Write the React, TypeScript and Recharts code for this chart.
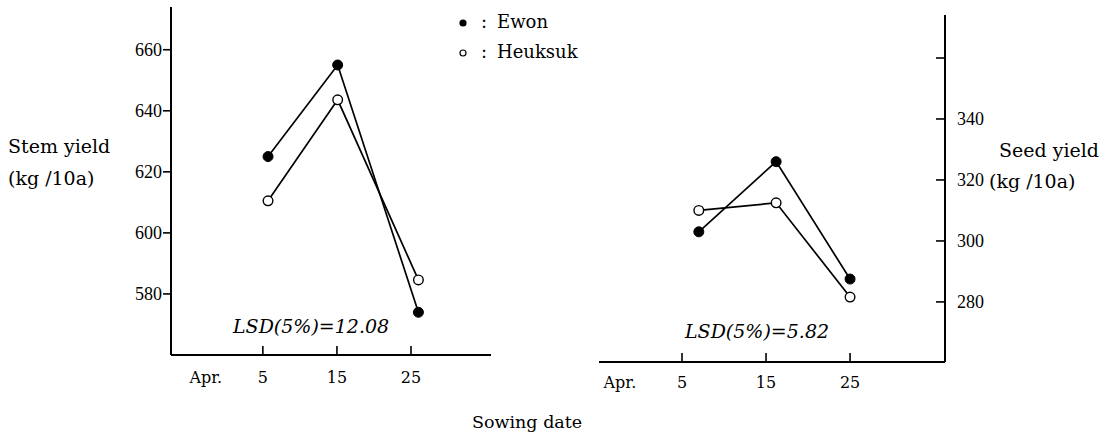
import { LineChart, Line, XAxis, YAxis, Legend } from 'recharts';

const FONT = '"DejaVu Serif", serif';
const NUM_FONT = '"Liberation Serif", serif';

const MONTH = 'Apr.';
const DATE_TICKS = [5, 15, 25];

// stem yield (kg/10a), left panel
const STEM_DAYS = [5.7, 15.1, 26];
const STEM_EWON = [625, 655, 574];
const STEM_HEUKSUK = [610.5, 643.6, 584.6];
const STEM_TICKS = [580, 600, 620, 640, 660];
const STEM_MONTH_AT = -2.7;

// seed yield (kg/10a), right panel
const SEED_DAYS = [7, 16.2, 25];
const SEED_EWON = [303, 326, 287.5];
const SEED_HEUKSUK = [310, 312.5, 281.6];
const SEED_TICKS = [280, 300, 320, 340, 360];
const SEED_LABELED = [280, 300, 320, 340];
const SEED_MONTH_AT = -2.4;

const stemData = STEM_DAYS.map((day, i) => ({ day, ewon: STEM_EWON[i], heuksuk: STEM_HEUKSUK[i] }));
const seedData = SEED_DAYS.map((day, i) => ({ day, ewon: SEED_EWON[i], heuksuk: SEED_HEUKSUK[i] }));

const axisLine = { stroke: '#000', strokeWidth: 2 };

const DateTick = (props: any) => {
  const { x, y, payload, gap } = props;
  const isMonth = !DATE_TICKS.includes(payload.value);
  return (
    <g>
      {!isMonth && <line x1={x} x2={x} y1={y} y2={y - 9} stroke="#000" strokeWidth={1.6} />}
      <text x={x} y={y + gap} textAnchor="middle" fontSize={16} fontFamily={FONT} fill="#000">
        {isMonth ? MONTH : payload.value}
      </text>
    </g>
  );
};

const SeedTick = (props: any) => {
  const { x, y, payload } = props;
  return (
    <g>
      <line x1={x - 9} x2={x} y1={y} y2={y} stroke="#000" strokeWidth={1.6} />
      {SEED_LABELED.includes(payload.value) && (
        <text x={x + 12} y={y + 6} fontSize={18} fontFamily={NUM_FONT} fill="#000">
          {payload.value}
        </text>
      )}
    </g>
  );
};

const LegendBox = () => (
  <svg width={140} height={64} style={{ display: 'block' }}>
    <circle cx={13} cy={23} r={3.6} fill="#000" />
    <text x={31} y={28} fontSize={18} fontFamily={FONT}>:</text>
    <text x={47} y={28} fontSize={18} fontFamily={FONT}>Ewon</text>
    <circle cx={13} cy={53} r={3} fill="#fff" stroke="#000" strokeWidth={1.2} />
    <text x={31} y={58} fontSize={18} fontFamily={FONT}>:</text>
    <text x={47} y={58} fontSize={18} fontFamily={FONT}>Heuksuk</text>
  </svg>
);

const filledDot = { r: 5, fill: '#000', stroke: '#000', strokeWidth: 1 };
const openDot = { r: 4.8, fill: '#fff', stroke: '#000', strokeWidth: 1.4 };

export default function App() {
  return (
    <div style={{ position: 'absolute', left: 0, top: 0, width: 1107, height: 437, background: '#fff' }}>
      <div style={{ position: 'absolute', left: 0, top: 0 }}>
        <LineChart width={1107} height={437} data={stemData} margin={{ top: 7, left: 111, right: 616, bottom: 52 }}>
          <XAxis
            type="number"
            dataKey="day"
            domain={[-7.4, 35.8]}
            allowDataOverflow
            ticks={[STEM_MONTH_AT, ...DATE_TICKS]}
            interval={0}
            height={30}
            tickSize={0}
            tickMargin={0}
            tickLine={false}
            axisLine={axisLine}
            tick={<DateTick gap={28} />}
          />
          <YAxis
            domain={[560, 674]}
            allowDataOverflow
            ticks={STEM_TICKS}
            interval={0}
            width={60}
            tickSize={8}
            tickMargin={1}
            axisLine={axisLine}
            tickLine={{ stroke: '#000', strokeWidth: 1.6 }}
            tick={{ fill: '#000', fontSize: 18, fontFamily: NUM_FONT }}
          />
          <Legend
            layout="vertical"
            align="center"
            verticalAlign="middle"
            wrapperStyle={{ left: 450, top: 0, width: 140, height: 64 }}
            content={() => <LegendBox />}
          />
          <Line dataKey="ewon" name="Ewon" stroke="#000" strokeWidth={1.7} dot={filledDot} activeDot={false} isAnimationActive={false} />
          <Line dataKey="heuksuk" name="Heuksuk" stroke="#000" strokeWidth={1.7} dot={openDot} activeDot={false} isAnimationActive={false} />
        </LineChart>
      </div>
      <div style={{ position: 'absolute', left: 0, top: 0 }}>
        <LineChart width={1107} height={437} data={seedData} margin={{ top: 15, left: 599, right: 102, bottom: 45 }}>
          <XAxis
            type="number"
            dataKey="day"
            domain={[-4.88, 36.3]}
            allowDataOverflow
            ticks={[SEED_MONTH_AT, ...DATE_TICKS]}
            interval={0}
            height={30}
            tickSize={0}
            tickMargin={0}
            tickLine={false}
            axisLine={axisLine}
            tick={<DateTick gap={26} />}
          />
          <YAxis
            orientation="right"
            domain={[260.3, 374.1]}
            allowDataOverflow
            ticks={SEED_TICKS}
            interval={0}
            width={60}
            tickSize={0}
            tickMargin={0}
            tickLine={false}
            axisLine={axisLine}
            tick={<SeedTick />}
          />
          <Line dataKey="ewon" name="Ewon" stroke="#000" strokeWidth={1.7} dot={filledDot} activeDot={false} isAnimationActive={false} />
          <Line dataKey="heuksuk" name="Heuksuk" stroke="#000" strokeWidth={1.7} dot={openDot} activeDot={false} isAnimationActive={false} />
        </LineChart>
      </div>
      <svg width={1107} height={437} style={{ position: 'absolute', left: 0, top: 0, pointerEvents: 'none' }}>
        <g fontFamily={FONT} fill="#000">
          <text x={8} y={153} fontSize={19}>Stem yield</text>
          <text x={8} y={185} fontSize={19}>(kg /10a)</text>
          <text x={999} y={157} fontSize={19}>Seed yield</text>
          <text x={989} y={188} fontSize={19}>(kg /10a)</text>
          <text x={472} y={428} fontSize={17.5}>Sowing date</text>
          <text x={233} y={333} fontSize={19} fontStyle="italic">LSD(5%)=12.08</text>
          <text x={685} y={338} fontSize={19} fontStyle="italic">LSD(5%)=5.82</text>
        </g>
      </svg>
    </div>
  );
}
